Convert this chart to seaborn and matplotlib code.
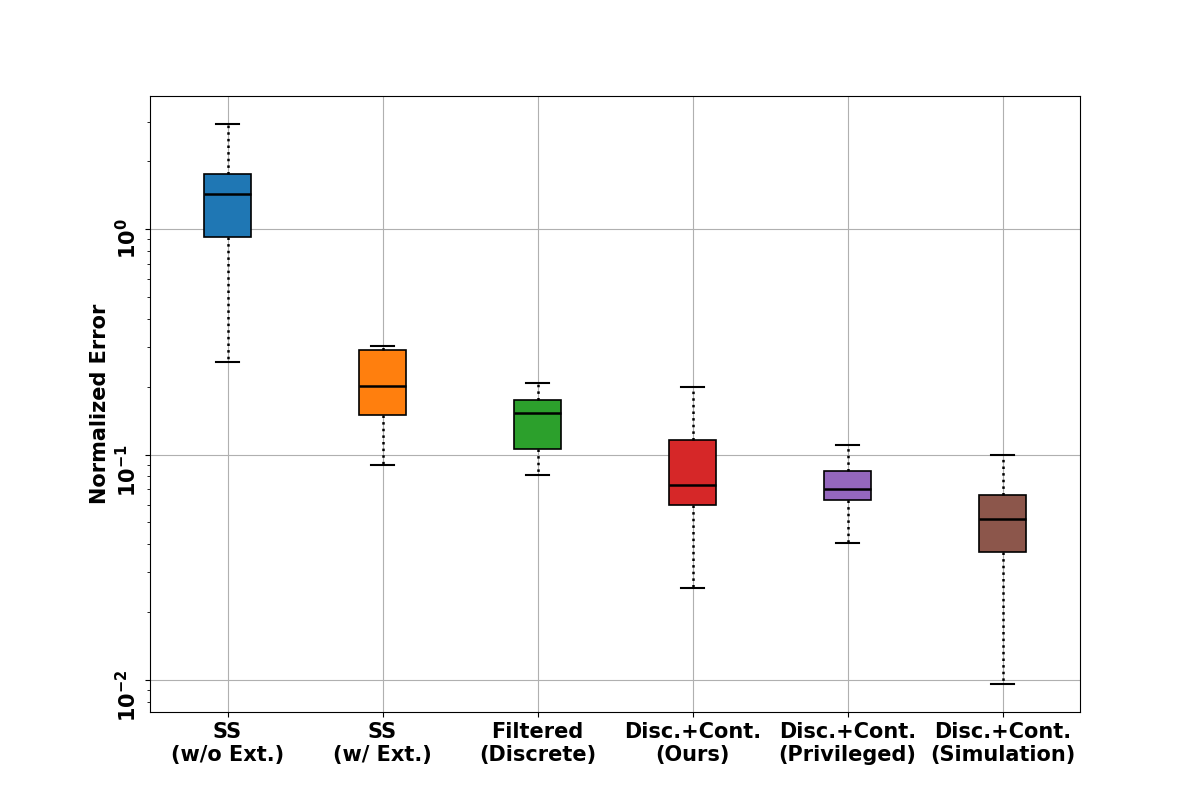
"""
Box plot of normalized error per method (log scale).
Each box is drawn from five summary values: whisker low, Q1, median, Q3, whisker high.
"""

import pandas as pd
import matplotlib
matplotlib.use("Agg")
import matplotlib.pyplot as plt
import seaborn as sns

# Category labels
METHODS = [
    "SS\n(w/o Ext.)",
    "SS\n(w/ Ext.)",
    "Filtered\n(Discrete)",
    "Disc.+Cont.\n(Ours)",
    "Disc.+Cont.\n(Privileged)",
    "Disc.+Cont.\n(Simulation)",
]

# Summary values: [low whisker, Q1, median, Q3, high whisker]
SS_WO_EXT = [0.257, 0.921, 1.43, 1.75, 2.92]
SS_W_EXT = [0.0898, 0.150, 0.201, 0.291, 0.303]
FILTERED_DISCRETE = [0.0811, 0.1057, 0.153, 0.1745, 0.207]
DISC_CONT_OURS = [0.0256, 0.0597, 0.0732, 0.116, 0.199]
DISC_CONT_PRIVILEGED = [0.0405, 0.0628, 0.0703, 0.0845, 0.110]
DISC_CONT_SIMULATION = [0.0096, 0.0370, 0.0518, 0.066, 0.0995]

SERIES = [
    SS_WO_EXT,
    SS_W_EXT,
    FILTERED_DISCRETE,
    DISC_CONT_OURS,
    DISC_CONT_PRIVILEGED,
    DISC_CONT_SIMULATION,
]


def build_frame() -> pd.DataFrame:
    """Long-form table: one row per value, tagged with its method."""
    rows = []
    for method, values in zip(METHODS, SERIES):
        for v in values:
            rows.append({"method": method, "error": v})
    return pd.DataFrame(rows)


def main() -> None:
    df = build_frame()

    fig, ax = plt.subplots(figsize=(12, 8), dpi=100)
    ax.set_yscale("log")

    sns.boxplot(
        data=df,
        x="method",
        y="error",
        hue="method",
        order=METHODS,
        hue_order=METHODS,
        palette="tab10",
        saturation=1,
        width=0.3,
        whis=(0, 100),
        linecolor="black",
        linewidth=1.2,
        legend=False,
        medianprops=dict(color="black", linewidth=1.8),
        whiskerprops=dict(color="black", linestyle=":", linewidth=1.8),
        capprops=dict(color="black", linewidth=1.5),
        ax=ax,
    )

    ax.set_ylim(0.0072, 3.9)
    ax.set_xlim(-0.5, len(METHODS) - 0.5)
    ax.grid(True, which="major", color="#b0b0b0", linewidth=0.8)
    ax.set_axisbelow(True)

    ax.set_xlabel("")
    ax.set_ylabel("Normalized Error", fontsize=15, fontweight="bold")
    plt.xticks(fontsize=15, fontweight="bold")
    plt.yticks(fontsize=15, fontweight="bold", rotation=90)

    for side in ["top", "right", "left", "bottom"]:
        ax.spines[side].set_visible(True)
        ax.spines[side].set_color("black")

    fig.savefig("out.png", dpi=100)


if __name__ == "__main__":
    main()
